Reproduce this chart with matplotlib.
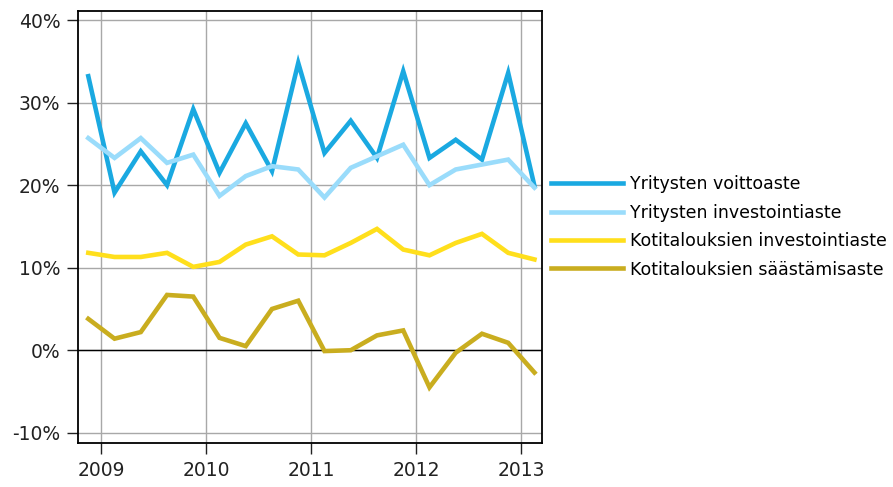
import numpy as np
import matplotlib
matplotlib.use('Agg')
import matplotlib.pyplot as plt

# quarterly data, 2008Q4 .. 2013Q1
quarters = np.arange(2008.875, 2013.2, 0.25)

voittoaste = [33.2, 19.1, 24.1, 20.0, 29.2, 21.5, 27.5, 21.7, 34.8,
              23.9, 27.8, 23.3, 33.8, 23.3, 25.5, 23.1, 33.6, 19.9]
yr_investointi = [25.7, 23.3, 25.7, 22.7, 23.7, 18.7, 21.1, 22.3, 21.9,
                  18.5, 22.1, 23.5, 24.9, 20.0, 21.9, 22.5, 23.1, 19.7]
kt_investointi = [11.8, 11.3, 11.3, 11.8, 10.1, 10.7, 12.8, 13.8, 11.6,
                  11.5, 13.0, 14.7, 12.2, 11.5, 13.0, 14.1, 11.8, 11.0]
saastamis = [3.8, 1.4, 2.2, 6.7, 6.5, 1.5, 0.5, 5.0, 6.0,
             -0.1, 0.0, 1.8, 2.4, -4.5, -0.3, 2.0, 0.9, -2.7]

labels = ['Yritysten voittoaste', 'Yritysten investointiaste',
          'Kotitalouksien investointiaste', 'Kotitalouksien säästämisaste']
colors = ['#1aa9e1', '#9adcfb', '#ffdf1c', '#c9ad1f']

year_ticks = [2009, 2010, 2011, 2012, 2013]
pct_ticks = [-10, 0, 10, 20, 30, 40]

plt.rcParams['font.family'] = ['DejaVu Sans']

fig = plt.figure(figsize=(8.93, 4.87), dpi=100)
ax = fig.add_axes([0.0877, 0.0910, 0.5196, 0.8864])

for vals, lab, col in zip([voittoaste, yr_investointi, kt_investointi, saastamis], labels, colors):
    ax.plot(quarters, vals, color=col, linewidth=3.3, label=lab, solid_joinstyle='miter', zorder=3)

ax.axhline(0, color='black', linewidth=1.0, zorder=2)

ax.set_xlim(2008.78, 2013.2)
ax.set_ylim(-11.2, 41.1)
ax.set_xticks(year_ticks)
ax.set_xticklabels([str(y) for y in year_ticks])
ax.set_yticks(pct_ticks)
ax.set_yticklabels([str(p) + '%' for p in pct_ticks])

ax.grid(True, color='#a8a8a8', linewidth=1.0, zorder=1)
ax.set_axisbelow(True)
for s in ax.spines.values():
    s.set_linewidth(1.3)
    s.set_color('black')
ax.tick_params(direction='out', length=8, width=1, labelsize=13.5, colors='#222222')
ax.tick_params(axis='y', pad=5)
ax.tick_params(axis='x', pad=5)

fig.legend(loc='center left', bbox_to_anchor=(0.617, 0.534), frameon=False,
           fontsize=12.5, handlelength=4.14, handletextpad=0.44, labelspacing=0.6,
           borderpad=0, borderaxespad=0)

fig.savefig('out.png', dpi=100)
